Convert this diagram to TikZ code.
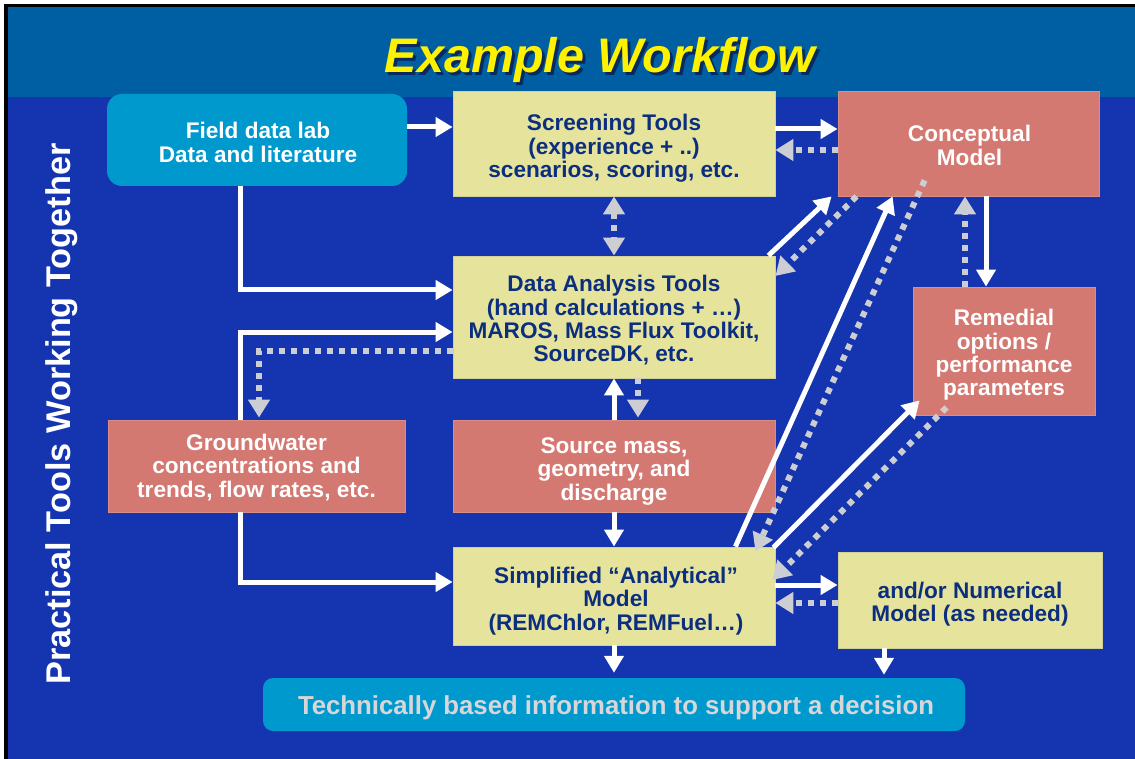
\documentclass[tikz,border=0pt]{standalone}
\usepackage{fontspec}
\setmainfont{Liberation Sans}
\usetikzlibrary{arrows.meta,calc}
\definecolor{bgblue}{RGB}{20,52,176}
\definecolor{headblue}{RGB}{0,94,162}
\definecolor{cyanbox}{RGB}{0,153,206}
\definecolor{yelbox}{RGB}{230,228,156}
\definecolor{salbox}{RGB}{212,120,114}
\definecolor{navytxt}{RGB}{12,46,126}
\definecolor{dotgray}{RGB}{205,205,212}
\definecolor{titleyel}{RGB}{255,242,0}
\definecolor{titleshadow}{RGB}{10,30,80}
\definecolor{techtxt}{RGB}{215,215,218}

\begin{document}
\begin{tikzpicture}[x=1pt,y=-1pt,
  box/.style={inner sep=0pt},
  ybox/.style={box, fill=yelbox, draw=yelbox!80!gray, line width=0.8pt},
  sbox/.style={box, fill=salbox, draw=salbox!85!white, line width=0.8pt},
  cbox/.style={box, fill=cyanbox},
  btext/.style={inner sep=0pt, align=center, font=\fontsize{22.6}{23.3}\selectfont\bfseries},
  ytext/.style={btext, text=navytxt},
  wtext/.style={btext, text=white},
  wline/.style={white, line width=5pt, -{Triangle[width=19pt,length=17pt]}},
  dline/.style={dotgray, line width=6pt, dash pattern=on 6pt off 6pt, -{Triangle[width=21pt,length=18pt]}},
  ddline/.style={dotgray, line width=6pt, dash pattern=on 6pt off 6pt, {Triangle[width=21pt,length=18pt]}-{Triangle[width=21pt,length=18pt]}},
]
\useasboundingbox (0,0) rectangle (1135,759);

% slide frame and backgrounds
\fill[white] (0,0) rectangle (1135,759);
\fill[black] (4,4) rectangle (1135,759);
\fill[bgblue] (8,7) rectangle (1135,759);
\fill[headblue] (8,7) rectangle (1135,97);

% title with soft drop shadow
\node[anchor=base, text=titleshadow, opacity=0.8, font=\fontsize{48.5}{50}\selectfont\bfseries\itshape] (titleshade) at (603,76) {Example Workflow};
\node[anchor=base, text=titleyel, font=\fontsize{48.5}{50}\selectfont\bfseries\itshape] (title) at (600,73) {Example Workflow};

% side caption
\node[rotate=90, text=white, font=\fontsize{34.3}{38}\selectfont\bfseries] (side) at (62,414) {Practical Tools Working Together};

% boxes
\node[cbox, rounded corners=15pt, minimum width=300pt, minimum height=92pt] (field) at (257,140) {};
\node[ybox, minimum width=322pt, minimum height=105pt] (screen) at (614,143.5) {};
\node[sbox, minimum width=261pt, minimum height=105pt] (concept) at (968.5,143.5) {};
\node[ybox, minimum width=322pt, minimum height=122pt] (data) at (614,317) {};
\node[sbox, minimum width=182pt, minimum height=128pt] (remed) at (1004,351) {};
\node[sbox, minimum width=297pt, minimum height=92pt] (ground) at (256.5,466) {};
\node[sbox, minimum width=322pt, minimum height=92pt] (source) at (614,466) {};
\node[ybox, minimum width=322pt, minimum height=98pt] (simple) at (614,596) {};
\node[ybox, minimum width=264pt, minimum height=96pt] (numer) at (970,600) {};
\node[cbox, rounded corners=10pt, minimum width=702pt, minimum height=53pt] (tech) at (614,704.5) {};

% box texts
\node[wtext] (field-t) at ($(field)+(1,2.5)$) {Field data lab\\Data and literature};
\node[ytext] (screen-t) at ($(screen)+(0,5)$) {Screening Tools\\(experience + ..)\\scenarios, scoring, etc.};
\node[wtext] (concept-t) at ($(concept)+(1,2)$) {Conceptual\\Model};
\node[ytext] (data-t) at ($(data)+(0,3.5)$) {Data Analysis Tools\\(hand calculations + \dots)\\MAROS, Mass Flux Toolkit,\\SourceDK, etc.};
\node[wtext] (remed-t) at ($(remed)+(0,4)$) {Remedial\\options /\\performance\\parameters};
\node[wtext] (ground-t) at ($(ground)+(0,1.5)$) {Groundwater\\concentrations and\\trends, flow rates, etc.};
\node[wtext] (source-t) at ($(source)+(0,5.5)$) {Source mass,\\geometry, and\\discharge};
\node[ytext] (simple-t) at ($(simple)+(2,5)$) {Simplified \textquotedblleft Analytical\textquotedblright\\Model\\(REMChlor, REMFuel\dots)};
\node[ytext] (numer-t) at ($(numer)+(0,4)$) {and/or Numerical\\Model (as needed)};
\node[text=techtxt, inner sep=0pt, font=\fontsize{26}{28}\selectfont\bfseries] (tech-t) at ($(tech)+(2,3.5)$) {\scalebox{0.99}[1]{Technically based information to support a decision}};

% solid flows
\draw[wline] ($(field.east)+(0,-13)$) -- ($(screen.west)+(0,-16.5)$);
\draw[wline] ($(field.south)+(-17,0)$) |- ($(data.west)+(0,-27)$);
\draw[wline] ($(screen.east)+(0,-14.5)$) -- ($(concept.west)+(0,-14.5)$);
\draw[wline] ($(data.north east)+(-7,0)$) -- ($(concept.south west)+(-6,0)$);
\draw[wline] ($(ground.north)+(-16.5,0)$) |- ($(data.west)+(0,15)$);
\draw[wline] (source.north) -- (data.south);
\draw[wline] (source.south) -- (simple.north);
\draw[wline] ($(ground.south)+(-16.5,0)$) |- ($(simple.west)+(0,-14)$);
\draw[wline] ($(simple.north east)+(-40,0)$) -- ($(concept.south west)+(55,0)$);
\draw[wline] ($(simple.north east)+(-2,1)$) -- ($(remed.south west)+(7,-15)$);
\draw[wline] ($(concept.south)+(17.5,0)$) -- ($(remed.north)+(-18,0)$);
\draw[wline] ($(simple.east)+(0,-11)$) -- ($(numer.west)+(0,-15)$);
\draw[wline] (simple.south) -- ($(tech.north)+(0,-5)$);
\draw[wline] ($(numer.south)+(-86,0)$) -- ($(tech.north)+(270,-3)$);

% feedback flows
\draw[dline] ($(concept.west)+(0,6.5)$) -- ($(screen.east)+(0,6.5)$);
\draw[ddline] (screen.south) -- (data.north);
\draw[dline] ($(concept.south west)+(19,0)$) -- ($(data.east)+(0,-41)$);
\draw[dline] ($(data.west)+(0,34)$) -| ($(ground.north)+(2.5,-2)$);
\draw[dline] ($(data.south)+(24,0)$) -- ($(source.north)+(24,-2)$);
\draw[dline] ($(concept.south west)+(87,-16)$) -- ($(simple.north east)+(-20,5)$);
\draw[dline] ($(remed.south west)+(34,-8)$) -- ($(simple.east)+(-3,-16)$);
\draw[dline] ($(remed.north)+(-39,0)$) -- ($(concept.south)+(-3.5,0)$);
\draw[dline] ($(numer.west)+(0,3)$) -- ($(simple.east)+(0,7)$);
\end{tikzpicture}
\end{document}
